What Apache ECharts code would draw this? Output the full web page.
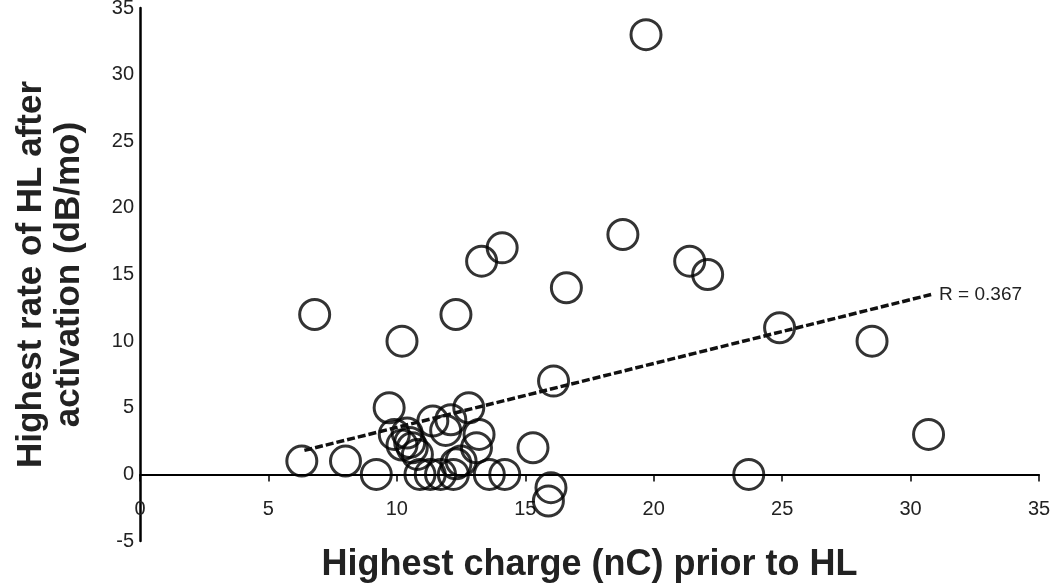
<!DOCTYPE html>
<html>
<head>
<meta charset="utf-8">
<script src="https://cdn.jsdelivr.net/npm/echarts@6/dist/echarts.min.js"></script>
<style>
  html, body { margin: 0; padding: 0; background: #fff; }
  #chart { width: 1050px; height: 588px; }
</style>
</head>
<body>
<div id="chart"></div>
<script>
// charge (nC) and rate of HL (dB/mo) for each ear
const chargeX = [6.8, 6.3, 8.0, 9.2, 9.7, 10.2, 12.3, 13.3, 14.1, 16.6, 16.1, 15.3, 16.0, 15.9,
  18.8, 19.7, 21.4, 22.1, 24.9, 28.5, 30.7, 23.7,
  9.9, 10.2, 10.4, 10.5, 10.6, 10.8, 11.4, 11.9, 12.1, 12.8, 13.2, 13.1, 12.5, 12.3,
  10.9, 11.3, 11.7, 12.2, 13.6, 14.2];
const rateY = [12, 1, 1, 0, 5, 10, 12, 16, 17, 14, 7, 2, -1, -2,
  18, 33, 16, 15, 11, 10, 3, 0,
  3.0, 2.2, 3.1, 2.4, 2.0, 1.5, 4.0, 3.3, 4.1, 5.0, 3.0, 2.0, 1.0, 0.8,
  0, 0, 0, 0, 0, 0];

// linear trend line end points
const trendX = [6.4, 30.8];
const trendY = [1.8, 13.5];
const rLabel = 'R = 0.367';

const xTicks = [0, 5, 10, 15, 20, 25, 30, 35];
const yTicks = [-5, 0, 5, 10, 15, 20, 25, 30, 35];

const points = chargeX.map((x, i) => [x, rateY[i]]);
const trend = trendX.map((x, i) => [x, trendY[i]]);

const chart = echarts.init(document.getElementById('chart'));
const font = '"Liberation Sans", Arial, sans-serif';

chart.setOption({
  animation: false,
  grid: { left: 140, right: 11, top: 8, bottom: 47, outerBoundsMode: 'none' },
  xAxis: {
    type: 'value',
    min: xTicks[0], max: xTicks[xTicks.length - 1], interval: 5,
    splitLine: { show: false },
    axisLine: { onZero: true, lineStyle: { color: '#000', width: 2 } },
    axisTick: { show: true, length: 7, lineStyle: { color: '#000', width: 1.5 } },
    axisLabel: { color: '#222', fontSize: 20, fontFamily: font, margin: -42 },
    name: 'Highest charge (nC) prior to HL',
    nameLocation: 'middle',
    nameGap: 6,
    nameTextStyle: { color: '#222', fontSize: 36, fontWeight: 'bold', fontFamily: font }
  },
  yAxis: {
    type: 'value',
    min: yTicks[0], max: yTicks[yTicks.length - 1], interval: 5,
    splitLine: { show: false },
    axisLine: { onZero: false, lineStyle: { color: '#000', width: 2.5 } },
    axisTick: { show: false },
    axisLabel: { color: '#222', fontSize: 20, fontFamily: font, margin: 6 },
    name: 'Highest rate of HL after\nactivation (dB/mo)',
    nameLocation: 'middle',
    nameGap: 52,
    nameTextStyle: { color: '#222', fontSize: 35, fontWeight: 'bold', fontFamily: font, lineHeight: 38 }
  },
  series: [
    {
      type: 'scatter',
      data: points,
      symbol: 'circle',
      symbolSize: 30,
      itemStyle: { color: 'rgba(0,0,0,0)', borderColor: '#000', borderWidth: 3 },
      z: 2
    },
    {
      type: 'line',
      data: trend,
      symbol: 'none',
      lineStyle: { color: '#111', width: 3.5, type: [8, 3] },
      endLabel: { show: true, formatter: rLabel, color: '#222', fontSize: 19, fontFamily: font, distance: 8 },
      z: 3
    }
  ]
});
</script>
</body>
</html>
